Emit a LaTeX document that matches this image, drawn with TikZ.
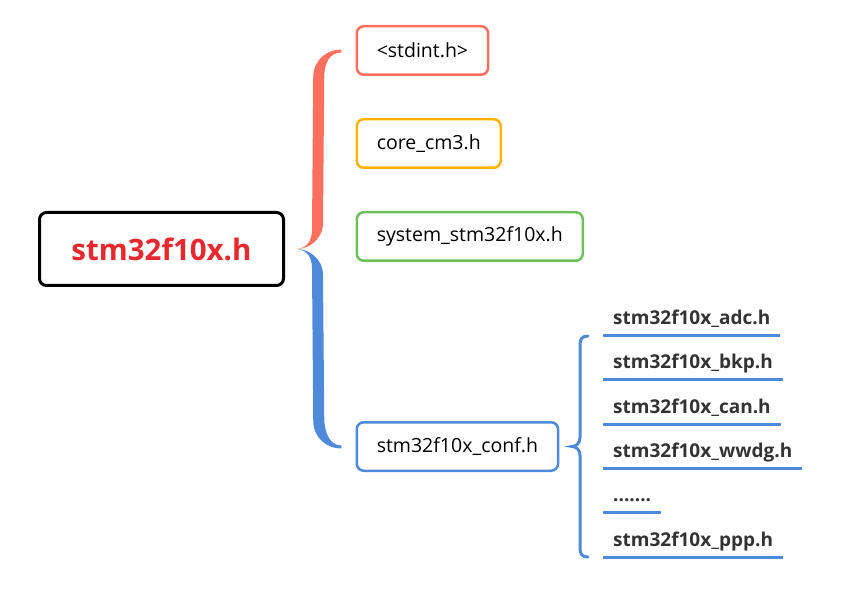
\documentclass[tikz,border=0pt]{standalone}
\usepackage{fontspec}
\setmainfont{Open Sans}
\usetikzlibrary{calc}
\definecolor{rootred}{HTML}{E7282E}
\definecolor{salmon}{HTML}{FF6F5E}
\definecolor{amber}{HTML}{FFB300}
\definecolor{leafgreen}{HTML}{6CC25A}
\definecolor{hblue}{HTML}{4E8AD9}
\definecolor{leafgray}{HTML}{333333}
\tikzset{
root/.style = {draw=black, line width=3pt, rounded corners=7pt, minimum width=244pt, minimum height=73pt, text=rootred, font=\bfseries\fontsize{29.5}{33}\selectfont},
file/.style = {draw, line width=2.5pt, rounded corners=7pt, minimum height=48.5pt, inner xsep=20pt, anchor=west, font=\fontsize{19.5}{23}\selectfont},
leaf/.style = {inner sep=0pt, anchor=base west, text=leafgray, font=\bfseries\fontsize{19}{22}\selectfont},
uline/.style = {draw=hblue, line width=3pt},
smallbrace/.style = {draw=hblue, line width=3pt, line cap=round}
}
\begin{document}
\begin{tikzpicture}[x=1pt, y=-1pt]
    \useasboundingbox (0,0) rectangle (856,601);
    \node [root] (root) at (161.5,249) {stm32f10x.h};
    \node [file, draw=salmon] (stdint) at (355.5,50.5) {<stdint.h>};
    \node [file, draw=amber] (core) at (355.5,143.5) {core\_cm3.h};
    \node [file, draw=leafgreen] (system) at (355.5,236.5) {system\_stm32f10x.h};
    \node [file, draw=hblue] (conf) at (355.5,446.5) {stm32f10x\_conf.h};
    \node [leaf] (adc) at (613,324) {stm32f10x\_adc.h};
    \node [leaf] (bkp) at (613,368) {stm32f10x\_bkp.h};
    \node [leaf] (can) at (613,413) {stm32f10x\_can.h};
    \node [leaf] (wwdg) at (613,457) {stm32f10x\_wwdg.h};
    \node [leaf] (dots) at (613,501) {.......};
    \node [leaf] (ppp) at (613,546) {stm32f10x\_ppp.h};
    \coordinate (tip) at ($(root.east)+(12,0)$);
    \coordinate (top) at ($(stdint.west)+(-14.25,-1)$);
    \coordinate (bot) at ($(conf.west)+(-14.25,-1)$);
    \fill [hblue] (tip) .. controls +(12,0) and +(0,-16) .. ($(tip)+(26,26)$) -- ($(bot)+(-17,-28)$) .. controls +(0,14) and +(-12,0) .. (bot) -- ($(bot)+(0,3)$) .. controls +(-14,0) and +(0,18) .. ($(bot)+(-28,-25)$) -- ($(tip)+(15,20)$) .. controls +(0,-12) and +(10,1) .. (tip) -- cycle;
    \fill [salmon] (tip) .. controls +(10,-1) and +(0,12) .. ($(tip)+(15,-20)$) -- ($(top)+(-28,28)$) .. controls +(0,-18) and +(-14,0) .. (top) -- ($(top)+(0,3)$) .. controls +(-12,0) and +(0,-14) .. ($(top)+(-17,28)$) -- ($(tip)+(26,-26)$) .. controls +(0,16) and +(12,0) .. (tip) -- cycle;
    \coordinate (btop) at ($(adc.base west)+(-25,12)$);
    \coordinate (bbot) at ($(ppp.base west)+(-25,11)$);
    \coordinate (btip) at ($(btop |- conf.east)+(-16,0)$);
    \draw [smallbrace] (btop) .. controls +(-6,0) and +(0,-6) .. ($(btop)+(-8,9)$) -- ($(btip)+(8,-9)$) .. controls +(0,6) and +(4,0) .. (btip) .. controls +(4,0) and +(0,-6) .. ($(btip)+(8,9)$) -- ($(bbot)+(-8,-9)$) .. controls +(0,6) and +(-6,0) .. (bbot);
    \draw [uline] ($(adc.base west)+(-10,11)$) -- ($(adc.base east)+(10,11)$);
    \draw [uline] ($(bkp.base west)+(-10,11)$) -- ($(bkp.base east)+(10,11)$);
    \draw [uline] ($(can.base west)+(-10,11)$) -- ($(can.base east)+(10,11)$);
    \draw [uline] ($(wwdg.base west)+(-10,11)$) -- ($(wwdg.base east)+(10,11)$);
    \draw [uline] ($(dots.base west)+(-10,11)$) -- ($(dots.base east)+(10,11)$);
    \draw [uline] ($(ppp.base west)+(-10,11)$) -- ($(ppp.base east)+(10,11)$);
\end{tikzpicture}
\end{document}
